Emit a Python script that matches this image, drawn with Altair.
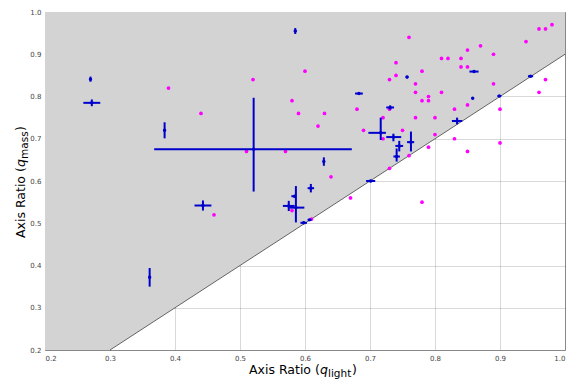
import altair as alt
import pandas as pd

# ---- data ----
tick_values = [0.2, 0.3, 0.4, 0.5, 0.6, 0.7, 0.8, 0.9, 1.0]

shade_x = [0.2, 0.3, 1.0]
shade_lo = [0.2, 0.2, 0.9]
shade_hi = [1.0, 1.0, 1.0]

diag_x = [0.3, 1.0]
diag_y = [0.2, 0.9]

mag_x = [0.39, 0.44, 0.46, 0.51, 0.52, 0.57, 0.58, 0.58, 0.59, 0.60, 0.61, 0.62,
         0.63, 0.64, 0.67, 0.68, 0.69, 0.72, 0.72, 0.73, 0.73, 0.73, 0.74, 0.74,
         0.75, 0.76, 0.76, 0.77, 0.77, 0.77, 0.78, 0.78, 0.78, 0.79, 0.79, 0.79,
         0.80, 0.80, 0.81, 0.81, 0.82, 0.83, 0.83, 0.84, 0.84, 0.85, 0.85, 0.85,
         0.85, 0.87, 0.89, 0.89, 0.90, 0.90, 0.94, 0.96, 0.96, 0.97, 0.97, 0.98]
mag_y = [0.82, 0.76, 0.52, 0.67, 0.84, 0.67, 0.79, 0.53, 0.76, 0.86, 0.51, 0.73,
         0.76, 0.61, 0.56, 0.77, 0.72, 0.75, 0.70, 0.84, 0.77, 0.63, 0.88, 0.85,
         0.72, 0.94, 0.66, 0.83, 0.81, 0.75, 0.86, 0.79, 0.55, 0.80, 0.79, 0.68,
         0.75, 0.71, 0.89, 0.81, 0.89, 0.77, 0.70, 0.89, 0.87, 0.91, 0.87, 0.78,
         0.67, 0.92, 0.90, 0.83, 0.77, 0.69, 0.93, 0.96, 0.81, 0.96, 0.84, 0.97]

blue_x = [0.270, 0.272, 0.384, 0.521, 0.585, 0.361, 0.443, 0.584, 0.575, 0.586,
          0.609, 0.598, 0.607, 0.629, 0.701, 0.683, 0.731, 0.7165, 0.736, 0.745,
          0.763, 0.741, 0.834, 0.757, 0.860, 0.858, 0.899, 0.947]
blue_y = [0.841, 0.785, 0.720, 0.675, 0.955, 0.372, 0.542, 0.564, 0.541, 0.537,
          0.583, 0.501, 0.508, 0.646, 0.600, 0.807, 0.774, 0.714, 0.704, 0.683,
          0.692, 0.658, 0.742, 0.846, 0.859, 0.796, 0.801, 0.848]
blue_xerr_lo = [0.001, 0.013, 0.002, 0.153, 0.002, 0.001, 0.013, 0.005, 0.009, 0.010,
                0.005, 0.005, 0.003, 0.001, 0.007, 0.006, 0.006, 0.019, 0.011, 0.006,
                0.006, 0.005, 0.008, 0.002, 0.007, 0.001, 0.003, 0.004]
blue_xerr_hi = [0.001, 0.013, 0.002, 0.151, 0.002, 0.001, 0.013, 0.002, 0.009, 0.013,
                0.005, 0.005, 0.003, 0.001, 0.007, 0.006, 0.006, 0.008, 0.012, 0.006,
                0.005, 0.005, 0.008, 0.002, 0.007, 0.001, 0.003, 0.004]
blue_yerr_lo = [0.006, 0.008, 0.019, 0.100, 0.007, 0.022, 0.012, 0.003, 0.012, 0.035,
                0.010, 0.003, 0.002, 0.010, 0.003, 0.003, 0.005, 0.017, 0.010, 0.013,
                0.022, 0.012, 0.008, 0.003, 0.002, 0.002, 0.002, 0.002]
blue_yerr_hi = [0.006, 0.008, 0.019, 0.122, 0.007, 0.022, 0.012, 0.003, 0.012, 0.051,
                0.010, 0.003, 0.002, 0.010, 0.003, 0.003, 0.005, 0.036, 0.008, 0.012,
                0.025, 0.019, 0.008, 0.003, 0.002, 0.002, 0.002, 0.002]

# ---- tables ----
shade_df = pd.DataFrame({"x": shade_x, "lo": shade_lo, "hi": shade_hi})
diag_df = pd.DataFrame({"x": diag_x, "y": diag_y})
mag_df = pd.DataFrame({"x": mag_x, "y": mag_y})
blue_df = pd.DataFrame({"x": blue_x, "y": blue_y})
blue_df["x_lo"] = blue_df["x"] - pd.Series(blue_xerr_lo)
blue_df["x_hi"] = blue_df["x"] + pd.Series(blue_xerr_hi)
blue_df["y_lo"] = blue_df["y"] - pd.Series(blue_yerr_lo)
blue_df["y_hi"] = blue_df["y"] + pd.Series(blue_yerr_hi)

xs = alt.Scale(domain=[0.2, 1.0], nice=False, zero=False)
ys = alt.Scale(domain=[0.2, 1.0], nice=False, zero=False)
xaxis = alt.Axis(values=tick_values, format=".1f", title=None)
yaxis = alt.Axis(values=tick_values, format=".1f", title=None)

BLUE = "#0000cc"
MAG = "#ff00ff"

shade = alt.Chart(shade_df).mark_area(color="#d3d3d3").encode(
    x=alt.X("x:Q", scale=xs, axis=xaxis),
    y=alt.Y("lo:Q", scale=ys, axis=yaxis),
    y2="hi:Q",
)

diag = alt.Chart(diag_df).mark_line(color="#555555", strokeWidth=0.9).encode(
    x=alt.X("x:Q", scale=xs, axis=xaxis),
    y=alt.Y("y:Q", scale=ys, axis=yaxis),
)

mag = alt.Chart(mag_df).mark_circle(color=MAG, size=14, opacity=1).encode(
    x=alt.X("x:Q", scale=xs, axis=xaxis),
    y=alt.Y("y:Q", scale=ys, axis=yaxis),
)

xerr = alt.Chart(blue_df).mark_rule(color=BLUE, strokeWidth=2).encode(
    x=alt.X("x_lo:Q", scale=xs, axis=xaxis),
    x2="x_hi:Q",
    y=alt.Y("y:Q", scale=ys, axis=yaxis),
)
yerr = alt.Chart(blue_df).mark_rule(color=BLUE, strokeWidth=2).encode(
    x=alt.X("x:Q", scale=xs, axis=xaxis),
    y=alt.Y("y_lo:Q", scale=ys, axis=yaxis),
    y2="y_hi:Q",
)
bpts = alt.Chart(blue_df).mark_circle(color=BLUE, size=12, opacity=1).encode(
    x=alt.X("x:Q", scale=xs, axis=xaxis),
    y=alt.Y("y:Q", scale=ys, axis=yaxis),
)

one = pd.DataFrame({"k": [0]})
FONT = "DejaVu Sans"
def txt(s, px, py, size=12.5, italic=False, angle=0):
    kw = dict(text=s, font=FONT, fontSize=size, align="left", baseline="alphabetic",
              color="#000000")
    if italic:
        kw["fontStyle"] = "italic"
    if angle:
        kw["angle"] = angle
    return alt.Chart(one).mark_text(**kw).encode(x=alt.value(px), y=alt.value(py))

titles = [
    txt("Axis Ratio (", 204, 362),
    txt("q", 275, 362, italic=True),
    txt("light", 283, 365, size=10.5),
    txt(")", 307, 362),
    txt("Axis Ratio (", -20, 226, angle=270),
    txt("q", -20, 155, italic=True, angle=270),
    txt("mass", -17, 147, size=10.5, angle=270),
    txt(")", -20, 119, angle=270),
]

chart = alt.layer(shade, diag, mag, xerr, yerr, bpts, *titles).properties(
    width=520, height=338,
    padding={"left": 45, "top": 12, "right": 15, "bottom": 31},
    autosize=alt.AutoSizeParams(type="none"),
).configure_axis(
    labelFont=FONT, labelFontSize=7, labelColor="#444444", labelPadding=4,
    ticks=False, domain=False, grid=True, gridColor="#000000", gridOpacity=0.15,
    gridWidth=1, zindex=1,
).configure_view(stroke="#a0a0a0", strokeWidth=1)

chart.save("out.html", embed_options={"renderer": "svg", "actions": False})
